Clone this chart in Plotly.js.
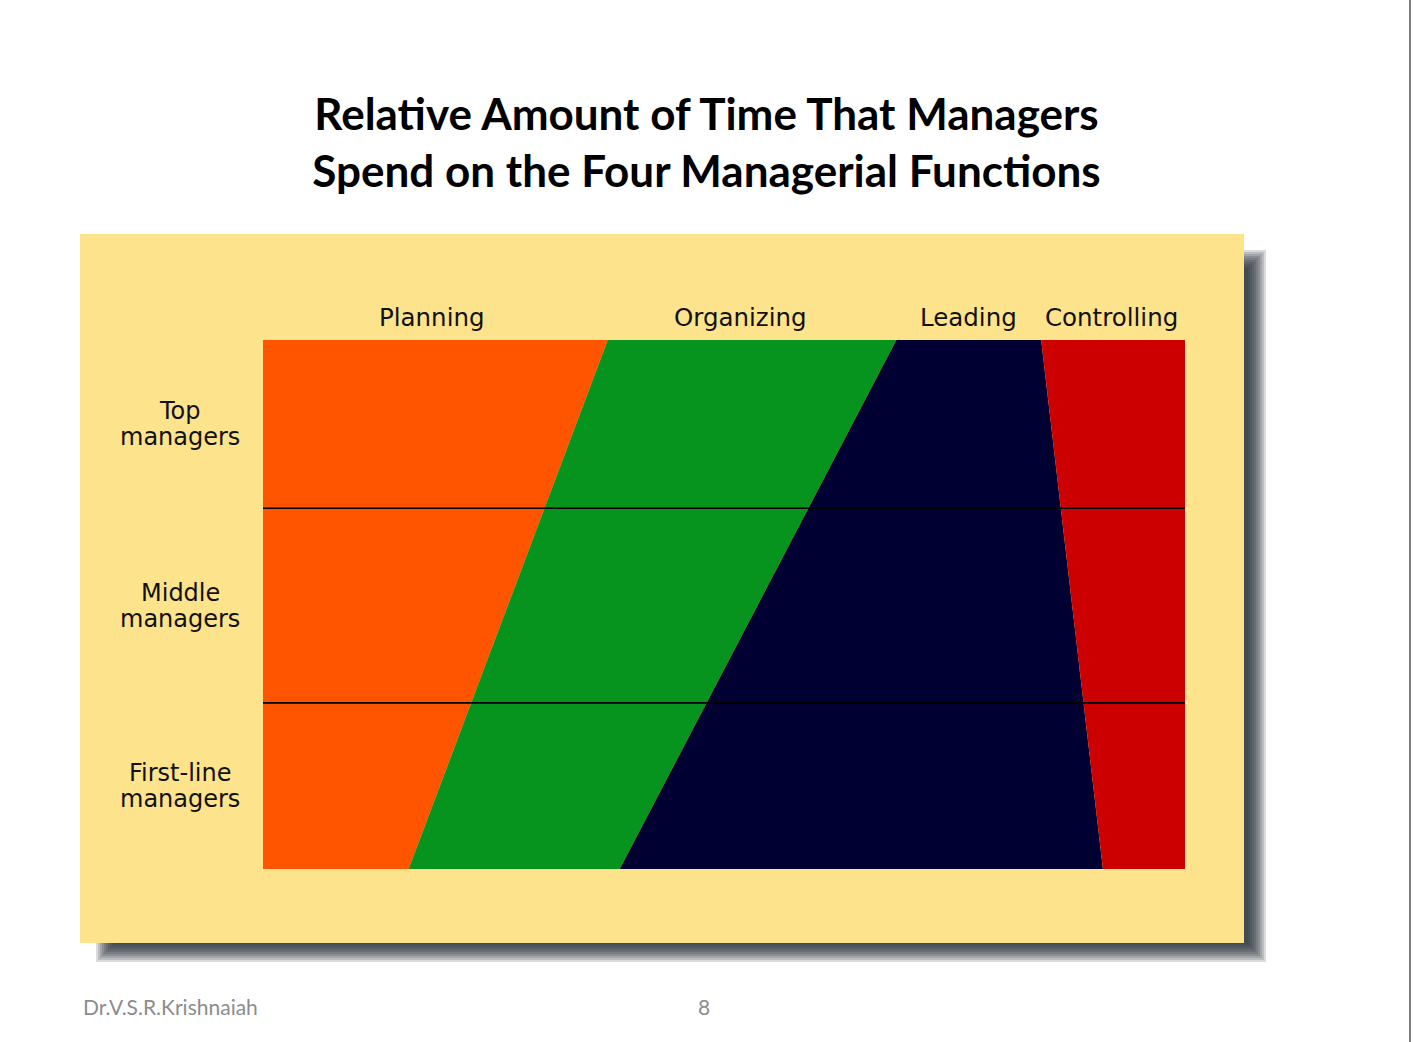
<!DOCTYPE html>
<html>
<head>
<meta charset="utf-8">
<script src="https://cdn.plot.ly/plotly-3.0.1.min.js"></script>
<style>
  html, body { margin: 0; padding: 0; background: #ffffff; }
  #chart { width: 1413px; height: 1042px; }
</style>
</head>
<body>
<div id="chart"></div>
<script>
// ---------------- DATA ----------------
const functions = ['Planning', 'Organizing', 'Leading', 'Controlling'];
// Hierarchy axis: 0 = top of hierarchy, 100 = bottom (first-line)
const levelEdges = [0, 100];
// Share of time (%) at the top edge and bottom edge of the hierarchy
const planning    = [37.4, 15.8];
const organizing  = [31.3, 22.9];
const leading     = [15.7, 52.4];
const controlling = [15.6, 8.9];
const seriesValues = [planning, organizing, leading, controlling];
const managerLevels = ['Top<br>managers', 'Middle<br>managers', 'First-line<br>managers'];
const rowBounds = [0, 31.8, 68.6, 100];
const titleText = '<b>Relative Amount of Time That Managers<br>Spend on the Four Managerial Functions</b>';
const footerAuthor = 'Dr.V.S.R.Krishnaiah';
const pageNumber = '8';

// ---------------- STYLE ----------------
const colors = ['#ff5500', '#06941e', '#000033', '#cc0000'];
const W = 1413, H = 1042;
const M = { l: 263, r: 228, t: 340, b: 173 };
const plotW = W - M.l - M.r, plotH = H - M.t - M.b;
const px2x = p => (p - M.l) / plotW;
const py2y = p => (H - M.b - p) / plotH;
const labelFont = { family: 'DejaVu Sans', size: 24.5, color: '#111111' };

const traces = functions.map((name, i) => ({
  type: 'scatter',
  name: name,
  x: seriesValues[i],
  y: levelEdges,
  stackgroup: 'one',
  orientation: 'h',
  mode: 'lines',
  line: { width: 0, color: colors[i] },
  fillcolor: colors[i],
  hoverinfo: 'name+x'
}));

const shapes = [];
// drop shadow (approximate blur with layered translucent rects)
for (let d = 8; d >= -10; d -= 2) {
  shapes.push({
    type: 'rect', xref: 'paper', yref: 'paper', layer: 'below',
    x0: px2x(104 - d), x1: px2x(1258 + d), y0: py2y(258 - d), y1: py2y(954 + d),
    fillcolor: '#242a33', opacity: 0.17, line: { width: 0 }
  });
}
// yellow panel
shapes.push({
  type: 'rect', xref: 'paper', yref: 'paper', layer: 'below',
  x0: px2x(80), x1: px2x(1244), y0: py2y(234), y1: py2y(943),
  fillcolor: '#fde38b', line: { width: 0 }
});
// slide right border
shapes.push({
  type: 'line', xref: 'paper', yref: 'paper', layer: 'below',
  x0: px2x(1410), x1: px2x(1410), y0: py2y(0), y1: py2y(H),
  line: { color: '#555555', width: 1.5 }
});
// row separators
rowBounds.slice(1, -1).forEach(b => shapes.push({
  type: 'line', xref: 'paper', yref: 'y', layer: 'above',
  x0: 0, x1: 1, y0: b, y1: b,
  line: { color: '#000000', width: 1.6 }
}));

const annotations = [];
// column labels centred over the top-edge segments
const labelShift = [-3, -12, 0, -2];
let cum = 0;
functions.forEach((name, i) => {
  const mid = cum + seriesValues[i][0] / 2;
  cum += seriesValues[i][0];
  annotations.push({
    text: name, x: mid, xref: 'x', y: py2y(317), yref: 'paper',
    xanchor: 'center', yanchor: 'middle', showarrow: false, xshift: labelShift[i],
    font: labelFont
  });
});
// row labels (two lines each, tighter line spacing)
managerLevels.forEach((lab, i) => {
  const lines = lab.split('<br>');
  lines.forEach((ln, k) => {
    annotations.push({
      text: ln, x: px2x(180), xref: 'paper', y: (rowBounds[i] + rowBounds[i + 1]) / 2, yref: 'y',
      xanchor: 'center', yanchor: 'middle', align: 'center', showarrow: false,
      yshift: (k === 0 ? 13 : -13),
      font: { family: 'DejaVu Sans', size: 24, color: '#111111' }
    });
  });
});
// footer
annotations.push({
  text: footerAuthor, x: px2x(81), xref: 'paper', y: py2y(1006), yref: 'paper',
  xanchor: 'left', yanchor: 'middle', showarrow: false,
  font: { family: 'Lato', size: 21, color: '#8c8c8c' }
});
annotations.push({
  text: pageNumber, x: px2x(704), xref: 'paper', y: py2y(1006), yref: 'paper',
  xanchor: 'center', yanchor: 'middle', showarrow: false,
  font: { family: 'Lato', size: 21, color: '#8c8c8c' }
});

const layout = {
  width: W, height: H, autosize: false,
  margin: M,
  paper_bgcolor: '#ffffff', plot_bgcolor: 'rgba(0,0,0,0)',
  showlegend: false,
  title: {
    text: titleText, x: 0.5, xref: 'container', xanchor: 'center',
    y: 1 - 130 / H, yref: 'container', yanchor: 'top',
    font: { family: 'Lato', size: 44, color: '#000000' }
  },
  xaxis: { range: [0, 100], visible: false, fixedrange: true },
  yaxis: { range: [100, 0], visible: false, fixedrange: true },
  shapes: shapes,
  annotations: annotations
};

Plotly.newPlot('chart', traces, layout, { displayModeBar: false, staticPlot: true });
</script>
</body>
</html>
